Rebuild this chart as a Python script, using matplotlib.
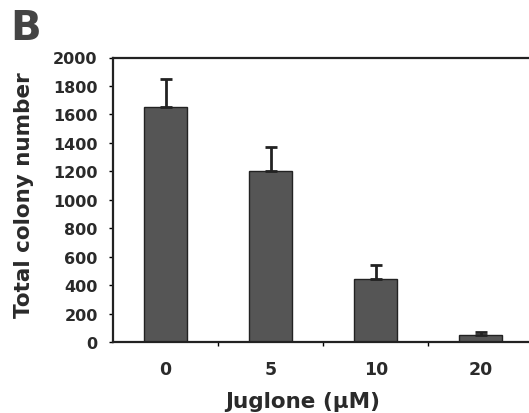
import matplotlib
matplotlib.use("Agg")
import matplotlib.pyplot as plt

categories = ["0", "5", "10", "20"]
values = [1650, 1200, 445, 53]
errors = [200, 175, 100, 20]
yticks = [0, 200, 400, 600, 800, 1000, 1200, 1400, 1600, 1800, 2000]

plt.rcParams['font.family'] = ['DejaVu Sans']

W, H = 529, 414
fig = plt.figure(figsize=(W / 100, H / 100), dpi=100)
ax = fig.add_axes([113 / W, 1 - 343.3 / H, (533.5 - 113) / W, (343.3 - 58.5) / H])

x = list(range(len(categories)))
ax.bar(x, values, width=0.41, color="#555555", edgecolor="#222222", linewidth=1.0, zorder=2)
ax.errorbar(x, values, yerr=[[0] * len(errors), errors], fmt="none", ecolor="#222222",
            elinewidth=2, capsize=4, capthick=2, zorder=3)

ax.set_xlim(-0.5, 3.5)
ax.set_ylim(0, 2000)
ax.set_yticks(yticks)
ax.set_yticklabels([str(t) for t in yticks], fontsize=11.5, fontweight="bold", color="#2a2a2a")
ax.set_xticks(x)
ax.set_xticklabels(categories, fontsize=12.5, fontweight="bold", color="#2a2a2a")
ax.set_xticks([0.5, 1.5, 2.5], minor=True)
ax.tick_params(axis="x", which="major", length=0, pad=13)
ax.tick_params(axis="x", which="minor", length=3, width=1, direction="out")
ax.tick_params(axis="y", length=3, width=1, direction="out", pad=8)

for s in ["left", "top", "bottom"]:
    ax.spines[s].set_linewidth(1.6)
    ax.spines[s].set_color("#222222")
ax.spines["right"].set_visible(False)

fig.text(24 / W, 1 - 195 / H, "Total colony number", rotation=90, ha="center", va="center",
         fontsize=15.5, fontweight="bold", color="#2a2a2a")
fig.text(303 / W, 1 - 402 / H, "Juglone (\u03bcM)", ha="center", va="center",
         fontsize=15.5, fontweight="bold", color="#2a2a2a")
fig.text(26 / W, 1 - 29 / H, "B", ha="center", va="center", fontsize=29, fontweight="bold",
         color="#444444")

fig.savefig("out.png", dpi=100)
